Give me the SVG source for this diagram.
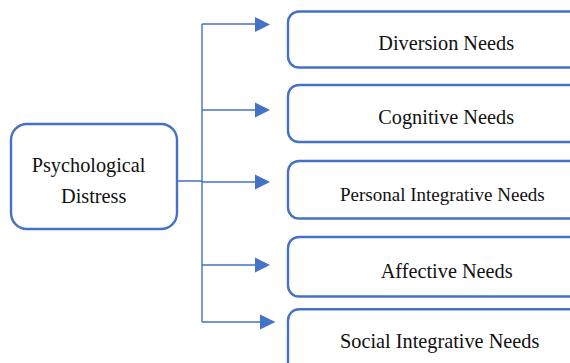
<svg xmlns="http://www.w3.org/2000/svg" width="570" height="363" viewBox="0 0 570 363">
  <style>
    .box { fill: #ffffff; stroke: #4472C4; stroke-width: 2.4; }
    .lbl { font-family: "Liberation Serif", "Times New Roman", serif; font-size: 20.3px; fill: #111111; }
    .wire { fill: none; stroke: #4472C4; stroke-width: 1.4; }
    .head { fill: #4472C4; }
  </style>
  <rect width="570" height="363" fill="#ffffff"/>

  <g id="connectors">
    <path class="wire" d="M178 181 H202 M202 24 V322"/>
    <path class="wire" d="M202 24 H256 M202 110 H256 M202 182 H256 M202 265 H256 M202 322 H261"/>
    <polygon class="head" points="255,17 270,24.5 255,32"/>
    <polygon class="head" points="255,102.5 270,110 255,117.5"/>
    <polygon class="head" points="255,174.5 270,182 255,189.5"/>
    <polygon class="head" points="255,257.5 270,265 255,272.5"/>
    <polygon class="head" points="260,314.5 275.5,322 260,329.5"/>
  </g>

  <g id="psychological-distress">
    <rect class="box" x="11" y="124" width="166" height="105" rx="16"/>
    <text class="lbl" x="31.7" y="172.3">Psychological</text>
    <text class="lbl" x="61" y="202.7">Distress</text>
  </g>

  <g id="diversion-needs">
    <rect class="box" x="288" y="11.5" width="320" height="56" rx="11"/>
    <text class="lbl" x="378.3" y="50">Diversion Needs</text>
  </g>

  <g id="cognitive-needs">
    <rect class="box" x="288" y="85" width="320" height="57" rx="11"/>
    <text class="lbl" x="378.3" y="124">Cognitive Needs</text>
  </g>

  <g id="personal-integrative-needs">
    <rect class="box" x="288" y="161" width="320" height="57.5" rx="11"/>
    <text class="lbl" x="340" y="201" style="font-size:19px">Personal Integrative Needs</text>
  </g>

  <g id="affective-needs">
    <rect class="box" x="288" y="237" width="320" height="59.5" rx="11"/>
    <text class="lbl" x="380.7" y="278.3">Affective Needs</text>
  </g>

  <g id="social-integrative-needs">
    <rect class="box" x="288" y="309.3" width="320" height="80" rx="11"/>
    <text class="lbl" x="340" y="348.3">Social Integrative Needs</text>
  </g>
</svg>
